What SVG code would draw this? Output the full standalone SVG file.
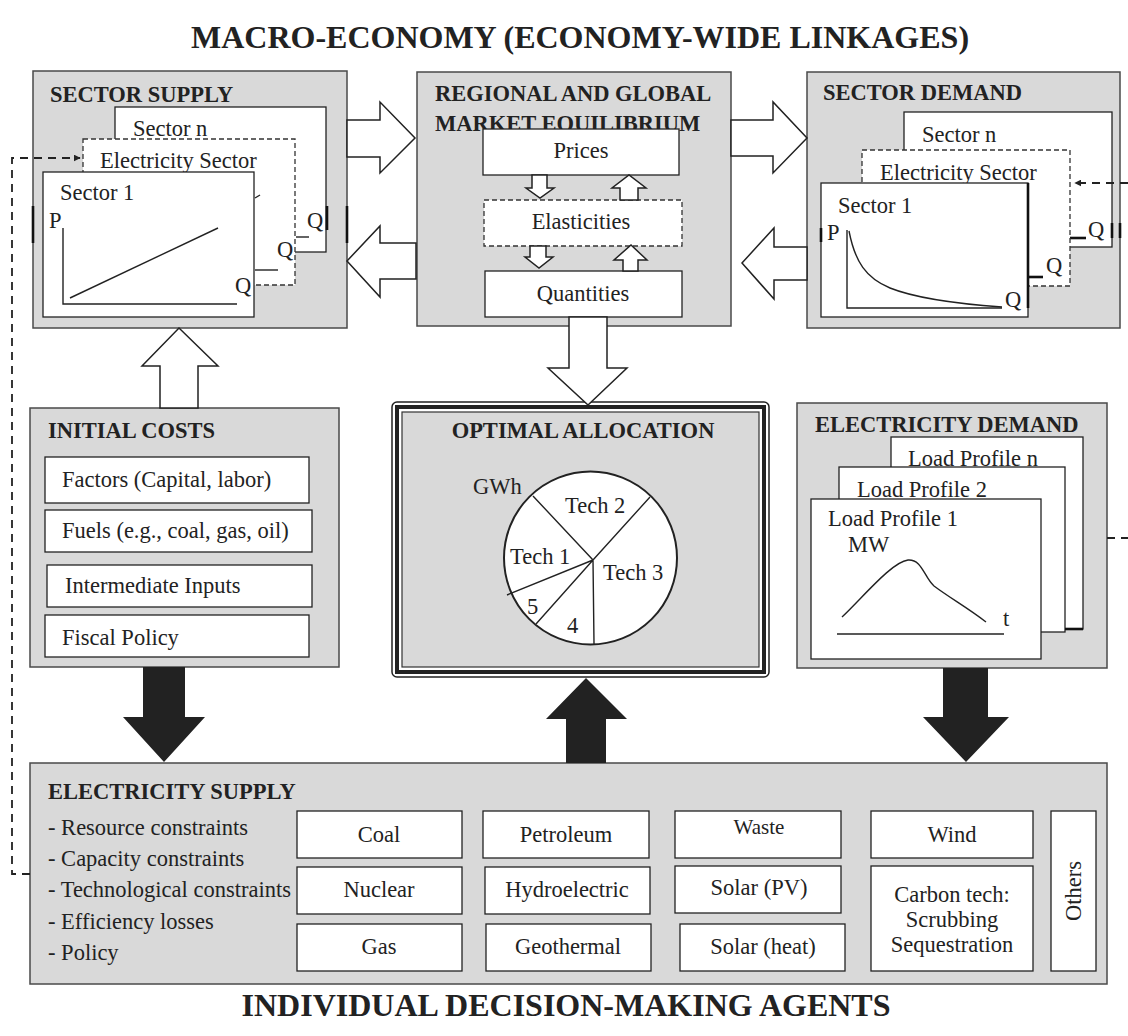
<svg xmlns="http://www.w3.org/2000/svg" width="1128" height="1036" viewBox="0 0 1128 1036">
<defs>
<style>
.box{fill:#d9d9d9;stroke:#4a4a4a;stroke-width:1.5}
.wb{fill:#fff;stroke:#222;stroke-width:1.3}
.db{fill:#fff;stroke:#333;stroke-width:1.3;stroke-dasharray:5,3}
.hd{font-family:"Liberation Serif","Times New Roman",serif;font-weight:bold;font-size:22.5px;fill:#222}
.tt{font-family:"Liberation Serif","Times New Roman",serif;font-weight:bold;font-size:32px;fill:#222}
.tx{font-family:"Liberation Serif","Times New Roman",serif;font-size:22.5px;fill:#222}
.c{text-anchor:middle}
.ln{fill:none;stroke:#222;stroke-width:1.4}
.thk{fill:none;stroke:#111;stroke-width:2.6}
.ha{fill:#fff;stroke:#222;stroke-width:1.5;stroke-linejoin:miter}
.ba{fill:#222;stroke:none}
.dash{fill:none;stroke:#222;stroke-width:1.8;stroke-dasharray:8,6}
</style>
<marker id="ah" viewBox="0 0 10 10" refX="9" refY="5" markerWidth="7" markerHeight="7" markerUnits="userSpaceOnUse" orient="auto">
<path d="M0,0 L10,5 L0,10 z" fill="#222"/>
</marker>
</defs>
<rect width="1128" height="1036" fill="#fff"/>

<text class="tt c" x="580" y="48">MACRO-ECONOMY (ECONOMY-WIDE LINKAGES)</text>
<text class="tt c" x="566" y="1016">INDIVIDUAL DECISION-MAKING AGENTS</text>

<g id="sector-supply">
<rect class="box" x="33" y="71" width="314" height="257"/>
<text class="hd" x="50" y="102">SECTOR SUPPLY</text>
<rect class="wb" x="115" y="107" width="211" height="145"/>
<text class="tx" x="133" y="136">Sector n</text>
<line class="ln" x1="296" y1="237" x2="309" y2="237"/>
<text class="tx" x="307" y="228">Q</text>
<rect class="db" x="83" y="139" width="212" height="146"/>
<text class="tx" x="100" y="168">Electricity Sector</text>
<line class="ln" x1="255" y1="270" x2="278" y2="270"/>
<text class="tx" x="277" y="257">Q</text>
<line class="ln" x1="255" y1="198" x2="260" y2="195"/>
<rect class="wb" x="43" y="172" width="211" height="145"/>
<text class="tx" x="60" y="200">Sector 1</text>
<text class="tx" x="49" y="228">P</text>
<path class="ln" d="M63,228 V304 H237"/>
<line class="ln" x1="70" y1="298" x2="218" y2="228"/>
<text class="tx" x="235" y="293">Q</text>
<line class="thk" x1="33" y1="206" x2="33" y2="243"/>
<line class="thk" x1="327" y1="206" x2="327" y2="230"/>
<line class="thk" x1="347" y1="206" x2="347" y2="243"/>
</g>

<g id="market-equilibrium">
<rect class="box" x="417" y="72" width="314" height="254"/>
<text class="hd" x="435" y="101">REGIONAL AND GLOBAL</text>
<text class="hd" x="435" y="131">MARKET EQUILIBRIUM</text>
<rect class="wb" x="483" y="129" width="196" height="46"/>
<text class="tx c" x="581" y="158">Prices</text>
<rect class="db" x="484" y="200" width="198" height="46"/>
<text class="tx c" x="581" y="229">Elasticities</text>
<rect class="wb" x="485" y="271" width="197" height="46"/>
<text class="tx c" x="583" y="301">Quantities</text>
<polygon class="ha" points="532,175 547,175 547,188 554,188 540,198 526,188 532,188"/>
<polygon class="ha" points="620,200 620,188 612,188 629,175 646,188 638,188 638,200"/>
<polygon class="ha" points="530,246 546,246 546,257 553,257 539,268 525,257 530,257"/>
<polygon class="ha" points="623,271 623,260 614,260 631,245 647,260 638,260 638,271"/>
</g>

<g id="sector-demand">
<rect class="box" x="807" y="72" width="313" height="256"/>
<text class="hd" x="823" y="100">SECTOR DEMAND</text>
<rect class="wb" x="904" y="112" width="208" height="135"/>
<text class="tx" x="922" y="142">Sector n</text>
<line class="thk" x1="1070" y1="238" x2="1086" y2="238"/>
<text class="tx" x="1088" y="237">Q</text>
<rect class="db" x="862" y="150" width="208" height="136"/>
<text class="tx" x="880" y="180">Electricity Sector</text>
<line class="thk" x1="1029" y1="277" x2="1043" y2="277"/>
<text class="tx" x="1046" y="273">Q</text>
<rect class="wb" x="821" y="183" width="207" height="134"/>
<line class="thk" x1="1028" y1="183" x2="1028" y2="308"/>
<text class="tx" x="838" y="213">Sector 1</text>
<text class="tx" x="827" y="240">P</text>
<path class="ln" d="M847,230 V308 H1002"/>
<path class="ln" d="M849,231 C855,262 866,278 890,288 C915,298 960,304 1002,307" stroke-width="2"/>
<text class="tx" x="1005" y="307">Q</text>
<line class="thk" x1="821" y1="228" x2="821" y2="242"/>
<line class="thk" x1="1112" y1="223" x2="1112" y2="238"/>
<line class="thk" x1="1120" y1="223" x2="1120" y2="238"/>
</g>

<g id="initial-costs">
<rect class="box" x="30" y="408" width="309" height="259"/>
<text class="hd" x="48" y="438">INITIAL COSTS</text>
<rect class="wb" x="45" y="457" width="264" height="46"/>
<text class="tx" x="62" y="487">Factors (Capital, labor)</text>
<rect class="wb" x="45" y="510" width="267" height="42"/>
<text class="tx" x="62" y="538">Fuels (e.g., coal, gas, oil)</text>
<rect class="wb" x="47" y="565" width="265" height="42"/>
<text class="tx" x="65" y="593">Intermediate Inputs</text>
<rect class="wb" x="45" y="615" width="264" height="42"/>
<text class="tx" x="62" y="645">Fiscal Policy</text>
</g>

<g id="optimal-allocation">
<rect x="392" y="402" width="377" height="275" rx="5" fill="#fff" stroke="#222" stroke-width="1.5"/>
<rect x="397" y="407" width="367" height="265" fill="none" stroke="#222" stroke-width="4"/>
<rect x="402" y="412" width="357" height="255" fill="#d9d9d9" stroke="#333" stroke-width="1.2"/>
<text class="hd c" x="583" y="438">OPTIMAL ALLOCATION</text>
<circle cx="590.5" cy="558" r="86.5" fill="#fff" stroke="#222" stroke-width="2"/>
<path class="ln" d="M593,560 L533,496 M593,560 L650,497 M593,560 L507,595 M593,560 L536,624 M593,560 L594,644" stroke-width="1.3"/>
<text class="tx" x="473" y="494">GWh</text>
<text class="tx" x="565" y="513">Tech 2</text>
<text class="tx" x="510" y="564">Tech 1</text>
<text class="tx" x="603" y="580">Tech 3</text>
<text class="tx" x="527" y="614">5</text>
<text class="tx" x="567" y="633">4</text>
</g>

<g id="electricity-demand">
<rect class="box" x="797" y="403" width="310" height="265"/>
<text class="hd" x="815" y="432">ELECTRICITY DEMAND</text>
<rect class="wb" x="891" y="437" width="192" height="192"/>
<text class="tx" x="908" y="466">Load Profile n</text>
<rect class="wb" x="839" y="467" width="226" height="165"/>
<text class="tx" x="857" y="497">Load Profile 2</text>
<line class="thk" x1="1065" y1="629" x2="1083" y2="629"/>
<rect class="wb" x="811" y="499" width="230" height="160"/>
<text class="tx" x="828" y="526">Load Profile 1</text>
<text class="tx" x="848" y="552">MW</text>
<path class="ln" d="M842,617 C865,595 892,562 908,560 C922,559 924,577 934,586 C950,598 968,608 986,622" stroke-width="2"/>
<line class="ln" x1="837" y1="634" x2="1004" y2="634"/>
<text class="tx" x="1003" y="626">t</text>
</g>

<g id="electricity-supply">
<rect class="box" x="30" y="763" width="1077" height="221"/>
<text class="hd" x="48" y="799">ELECTRICITY SUPPLY</text>
<text class="tx" x="48" y="835">- Resource constraints</text>
<text class="tx" x="48" y="866">- Capacity constraints</text>
<text class="tx" x="48" y="897">- Technological constraints</text>
<text class="tx" x="48" y="929">- Efficiency losses</text>
<text class="tx" x="48" y="960">- Policy</text>
<rect class="wb" x="297" y="811" width="165" height="47"/>
<text class="tx c" x="379" y="842">Coal</text>
<rect class="wb" x="297" y="867" width="165" height="47"/>
<text class="tx c" x="379" y="897">Nuclear</text>
<rect class="wb" x="297" y="924" width="165" height="47"/>
<text class="tx c" x="379" y="954">Gas</text>
<rect class="wb" x="483" y="811" width="166" height="47"/>
<text class="tx c" x="566" y="842">Petroleum</text>
<rect class="wb" x="485" y="867" width="165" height="47"/>
<text class="tx c" x="567" y="897">Hydroelectric</text>
<rect class="wb" x="486" y="924" width="165" height="47"/>
<text class="tx c" x="568" y="954">Geothermal</text>
<rect class="wb" x="675" y="811" width="166" height="47"/>
<text class="tx c" x="759" y="834" style="font-size:21px">Waste</text>
<rect class="wb" x="675" y="866" width="166" height="47"/>
<text class="tx c" x="759" y="895">Solar (PV)</text>
<rect class="wb" x="680" y="924" width="165" height="47"/>
<text class="tx c" x="763" y="954">Solar (heat)</text>
<rect class="wb" x="871" y="811" width="162" height="47"/>
<text class="tx c" x="952" y="842">Wind</text>
<rect class="wb" x="871" y="866" width="162" height="105"/>
<text class="tx c" x="952" y="902">Carbon tech:</text>
<text class="tx c" x="952" y="927">Scrubbing</text>
<text class="tx c" x="952" y="952">Sequestration</text>
<rect class="wb" x="1051" y="811" width="45" height="160"/>
<text class="tx c" transform="translate(1081,891) rotate(-90)">Others</text>
</g>

<g id="connectors">
<polygon class="ha" points="347,120 380,120 380,102 415,138 380,173 380,157 347,157"/>
<polygon class="ha" points="416,243 380,243 380,226 347,261 380,297 380,279 416,279"/>
<polygon class="ha" points="731,120 773,120 773,102 807,138 773,173 773,156 731,156"/>
<polygon class="ha" points="807,247 774,247 774,228 742,263 774,299 774,280 807,280"/>
<polygon class="ha" points="160,408 160,366 142,366 179,328 218,366 198,366 198,408"/>
<polygon class="ha" points="569,317 569,368 548,368 588,405 627,368 607,368 607,317"/>
<polygon class="ba" points="143,667 185,667 185,717 205,717 164,762 123,717 143,717"/>
<polygon class="ba" points="566,763 566,719 546,719 586,678 627,719 606,719 606,763"/>
<polygon class="ba" points="943,668 988,668 988,717 1009,717 966,762 923,717 943,717"/>
<path class="dash" d="M30,874 H12 V158 H80" marker-end="url(#ah)"/>
<path class="dash" d="M1107,538 H1136 V183 H1075" marker-end="url(#ah)"/>
</g>
</svg>
